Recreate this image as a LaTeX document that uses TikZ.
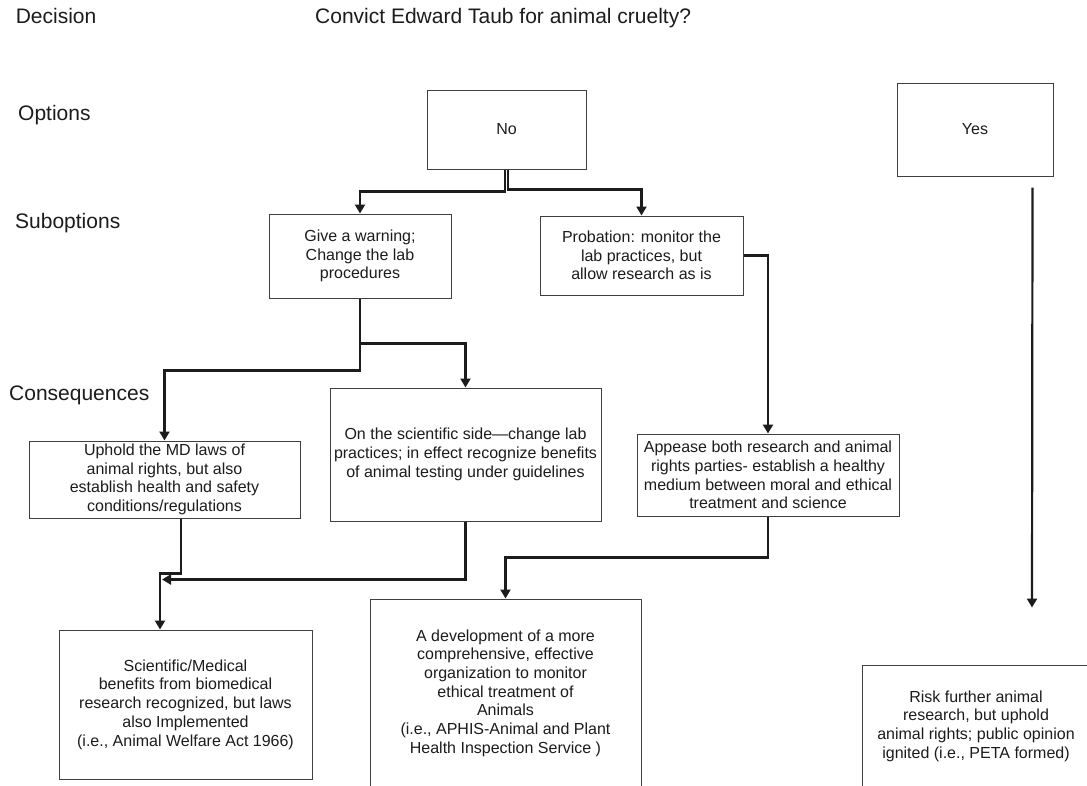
\documentclass[tikz,border=0pt]{standalone}
\usepackage{fontspec}
\setmainfont{Liberation Sans}
\usepackage{xcolor}
\definecolor{chartInk}{HTML}{1C1C1C}
\definecolor{chartEdge}{HTML}{3F3F3F}
\usetikzlibrary{arrows.meta}

\tikzset{
  box/.style={draw=chartEdge, line width=1pt, fill=white, align=center, inner sep=0pt,
    text=chartInk, font=\fontsize{16}{18.7}\selectfont},
  link/.style={draw=chartInk, line width=2.2pt, -{Triangle[width=10pt,length=9pt]}},
  heading/.style={anchor=base west, inner sep=0pt, text=chartInk, font=\fontsize{21}{25}\selectfont}
}

\begin{document}
\begin{tikzpicture}[x=1pt, y=-1pt]
  \useasboundingbox (0,0) rectangle (1087,785);
  \fill[white] (0,0) rectangle (1087,785);

  \node[heading] (decision) at (15.6,23) {Decision};
  \node[heading] (question) at (315,23) {Convict Edward Taub for animal cruelty?};
  \node[heading] (options) at (18,120) {Options};
  \node[heading] (suboptions) at (15,228) {Suboptions};
  \node[heading] (consequences) at (9,400) {Consequences};

  \node[box, minimum width=159pt, minimum height=79pt] (no) at (506.5,129.5) {No};
  \node[box, minimum width=156pt, minimum height=93pt] (yes) at (975,129.5) {Yes};
  \node[box, minimum width=182pt, minimum height=84pt] (give) at (360,256) {Give a warning;\\Change the lab\\procedures};
  \node[box, minimum width=203pt, minimum height=79pt] (probation) at (641.5,255.5) {Probation: monitor the\\lab practices, but\\allow research as is};
  \node[box, minimum width=271pt, minimum height=77pt] (uphold) at (164.5,479.5) {Uphold the MD laws of\\animal rights, but also\\establish health and safety\\conditions/regulations};
  \node[box, minimum width=271pt, minimum height=133pt] (science) at (465.5,454.5) {On the scientific side---change lab\\practices; in effect recognize benefits\\of animal testing under guidelines};
  \node[box, minimum width=262pt, minimum height=82pt] (appease) at (768,475) {Appease both research and animal\\rights parties- establish a healthy\\medium between moral and ethical\\treatment and science};
  \node[box, minimum width=253pt, minimum height=149pt] (benefits) at (185.5,704.5) {Scientific/Medical\\benefits from biomedical\\research recognized, but laws\\also Implemented\\(i.e., Animal Welfare Act 1966)};
  \node[box, minimum width=271pt, minimum height=188pt] (agency) at (505.5,693) {A development of a more\\comprehensive, effective\\organization to monitor\\ethical treatment of\\Animals\\(i.e., APHIS-Animal and Plant\\Health Inspection Service )};
  \node[box, minimum width=228pt, minimum height=122pt] (risk) at (976,726) {Risk further animal\\research, but uphold\\animal rights; public opinion\\ignited (i.e., PETA formed)};

  \draw[link] ([xshift=-1.5pt]no.south) -- ++(0,22) -| (give.north);
  \draw[link] ([xshift=1.5pt]no.south) -- ++(0,20) -| (probation.north);
  \draw[link] (give.south) -- ++(0,72) -| (uphold.north);
  \draw[link] ([yshift=-45pt]give.south) -| (science.north);
  \draw[link] (probation.east) -| (appease.north);
  \draw[link] ([xshift=16.5pt]uphold.south) -- ++(0,55) -| ([xshift=-25.5pt]benefits.north);
  \draw[link] (science.south) |- ([xshift=-23.5pt,yshift=50pt]benefits.north);
  \draw[link] (appease.south) -- ++(0,41) -| (agency.north);
  \draw[link] ([xshift=-21pt,yshift=-11pt]yes.south east) -- ([xshift=56pt,yshift=57pt]risk.north);
\end{tikzpicture}
\end{document}
